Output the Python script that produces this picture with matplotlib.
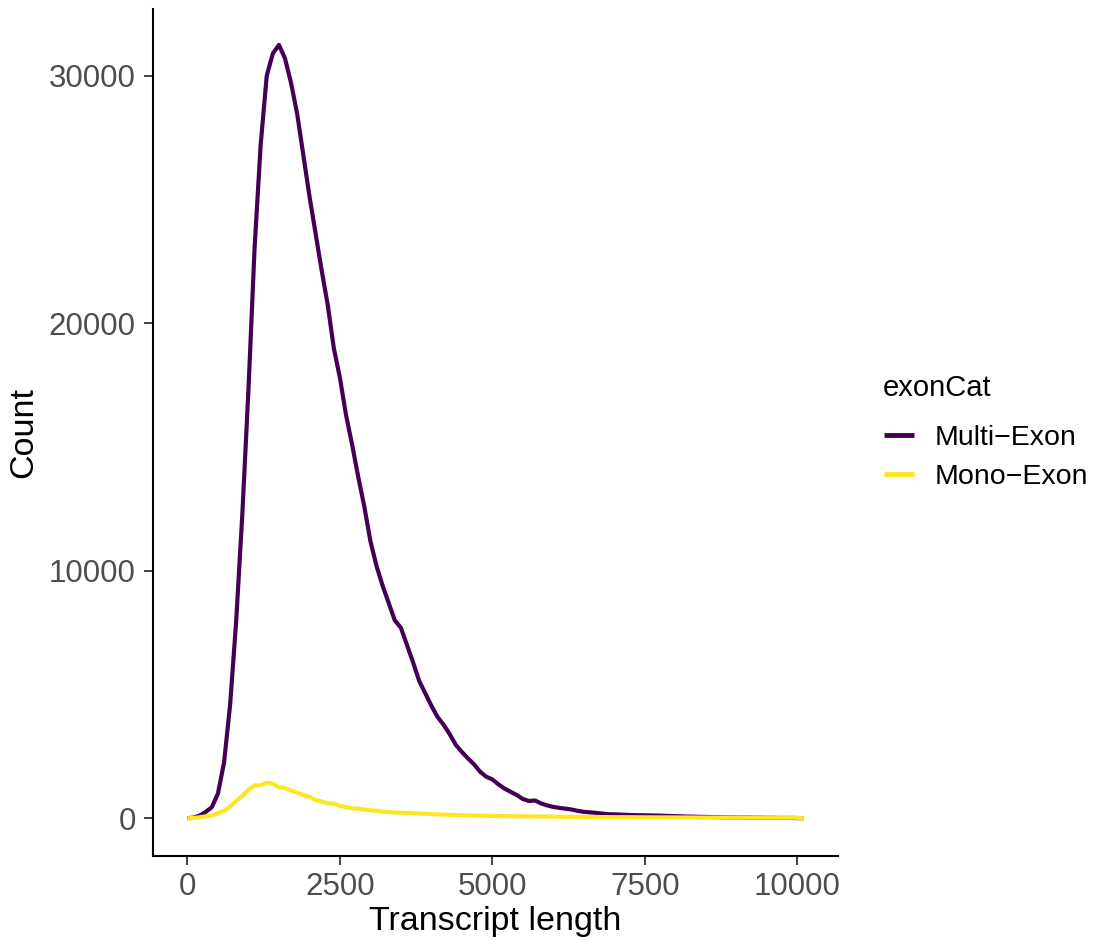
import numpy as np
import matplotlib
matplotlib.use("Agg")
import matplotlib.pyplot as plt

plt.rcParams['font.family'] = ['Liberation Sans', 'DejaVu Sans']

binwidth = 100
categories = ["Multi\u2212Exon", "Mono\u2212Exon"]
colors = ["#440154", "#FDE725"]

multi_exon = [0, 30, 110, 260, 450, 1000, 2250, 4600, 8000, 12300,
              17300, 23000, 27200, 30000, 30900, 31250, 30700, 29700, 28450, 26800,
              25150, 23650, 22150, 20750, 19000, 17800, 16300, 15100, 13800, 12600,
              11200, 10200, 9400, 8700, 8000, 7700, 7000, 6300, 5550, 5050,
              4550, 4100, 3780, 3400, 2970, 2680, 2420, 2180, 1880, 1680,
              1570, 1370, 1200, 1070, 940, 780, 700, 720, 600, 520,
              460, 420, 390, 355, 300, 260, 240, 220, 190, 165,
              160, 150, 140, 130, 125, 120, 115, 110, 105, 95,
              85, 80, 70, 65, 60, 55, 50, 45, 40, 35,
              35, 30, 30, 25, 25, 20, 20, 15, 15, 15,
              10, 0]

mono_exon = [0, 15, 40, 80, 120, 200, 300, 470, 700, 900,
             1150, 1330, 1340, 1430, 1400, 1250, 1220, 1120, 1040, 940,
             870, 740, 680, 610, 590, 500, 450, 400, 390, 350,
             330, 300, 270, 250, 235, 225, 215, 205, 195, 185,
             170, 160, 150, 140, 135, 125, 115, 110, 105, 100,
             95, 90, 88, 85, 82, 80, 78, 75, 72, 70,
             68, 65, 62, 60, 58, 56, 54, 52, 50, 48,
             46, 45, 44, 42, 41, 40, 39, 38, 37, 36,
             35, 34, 33, 32, 31, 30, 30, 29, 28, 28,
             27, 26, 26, 25, 25, 24, 24, 23, 23, 22,
             22, 0]

x_centers = np.arange(len(multi_exon)) * binwidth

W, H = 1098, 941
fig = plt.figure(figsize=(W / 100, H / 100), dpi=100)
ax = fig.add_axes([153 / W, 1 - 856 / H, (838 - 153) / W, (856 - 9) / H])

for name, vals, col in zip(categories, [multi_exon, mono_exon], colors):
    ax.plot(x_centers, vals, color=col, lw=3.0, label=name, solid_capstyle='butt',
            solid_joinstyle='round')

ax.set_xlim(-565, 10668)
ax.set_ylim(-1523, 32700)
ax.set_xticks([0, 2500, 5000, 7500, 10000])
ax.set_yticks([0, 10000, 20000, 30000])

for s in ['top', 'right']:
    ax.spines[s].set_visible(False)
for s in ['left', 'bottom']:
    ax.spines[s].set_linewidth(1.5)
    ax.spines[s].set_color('black')

ax.tick_params(axis='both', length=6.5, width=1.3, color='#333333',
               labelcolor='#4D4D4D', labelsize=22.5)
ax.tick_params(axis='y', pad=6)
ax.tick_params(axis='x', pad=5)

ax.set_xlabel("Transcript length", fontsize=24.5, color='black', labelpad=3)
ax.set_ylabel("Count", fontsize=24.5, color='black', labelpad=7)

fig.text(883 / W, 1 - 388 / H, "exonCat", fontsize=21, color='black',
         ha='left', va='center')
leg = ax.legend(loc='upper left',
                bbox_to_anchor=(884 / W, 1 - 425 / H), bbox_transform=fig.transFigure,
                frameon=False, fontsize=20.5,
                handlelength=1.05, handletextpad=0.72, labelspacing=0.45,
                borderpad=0, borderaxespad=0)
for line in leg.get_lines():
    line.set_linewidth(3.5)

fig.savefig("out.png", dpi=100)
